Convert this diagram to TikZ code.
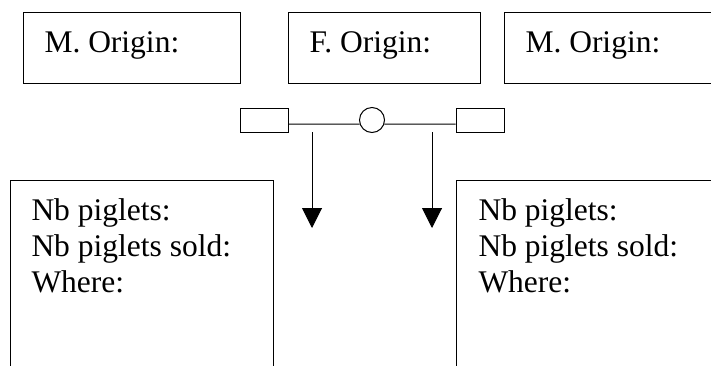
\documentclass[tikz,border=0pt]{standalone}
\usepackage{fontspec}
\setmainfont{Liberation Serif}
\usepackage{tikz}
\usetikzlibrary{positioning, arrows.meta}

\begin{document}
\begin{tikzpicture}[
    x=1pt, y=-1pt,
    line width=1pt,
    origin/.style={rectangle, draw, anchor=north west, inner sep=0pt, minimum height=71pt},
    litter/.style={rectangle, draw, anchor=north west, inner sep=0pt, minimum height=260pt},
    tag/.style={rectangle, draw, inner sep=0pt, minimum width=48pt, minimum height=24pt},
    txt/.style={inner sep=0pt, anchor=base west, align=left,
        font={\fontsize{31.5}{36}\selectfont}}
]
    \useasboundingbox (0,0) rectangle (711,365);
    \clip (0,0) rectangle (711,365);

    % Origins
    \node[origin, minimum width=217pt] (o1) at (23,12) {};
    \node[origin, minimum width=192pt] (o2) at (288,12) {};
    \node[origin, minimum width=260pt] (o3) at (504,12) {};
    \node[txt] (o1t) at ([xshift=21pt, yshift=-40pt]o1.north west) {M. Origin:};
    \node[txt] (o2t) at ([xshift=21pt, yshift=-40pt]o2.north west) {F. Origin:};
    \node[txt] (o3t) at ([xshift=21pt, yshift=-40pt]o3.north west) {M. Origin:};

    % Couple
    \node[tag] (t1) at (264,120) {};
    \node[tag] (t2) at (480,120) {};
    \node[circle, draw, inner sep=0pt, minimum size=25pt] (c) at (372,120) {};
    \draw ([yshift=-4pt]t1.east) -- (c.199);
    \draw (c.-19) -- ([yshift=-4pt]t2.west);

    % Arrows
    \coordinate (a1) at (312,132);
    \coordinate (b1) at (312,228);
    \coordinate (a2) at (432,132);
    \coordinate (b2) at (432,228);
    \draw[-{Triangle[length=20pt, width=20pt]}] (a1) -- (b1);
    \draw[-{Triangle[length=20pt, width=20pt]}] (a2) -- (b2);

    % Litters (base is the last line)
    \node[litter, minimum width=263pt] (l1) at (10,180) {};
    \node[litter, minimum width=300pt] (l2) at (456,180) {};
    \node[txt] (l1t) at ([xshift=21pt, yshift=-112pt]l1.north west)
        {Nb piglets:\\Nb piglets sold:\\Where:};
    \node[txt] (l2t) at ([xshift=22pt, yshift=-112pt]l2.north west)
        {Nb piglets:\\Nb piglets sold:\\Where:};

\end{tikzpicture}
\end{document}
